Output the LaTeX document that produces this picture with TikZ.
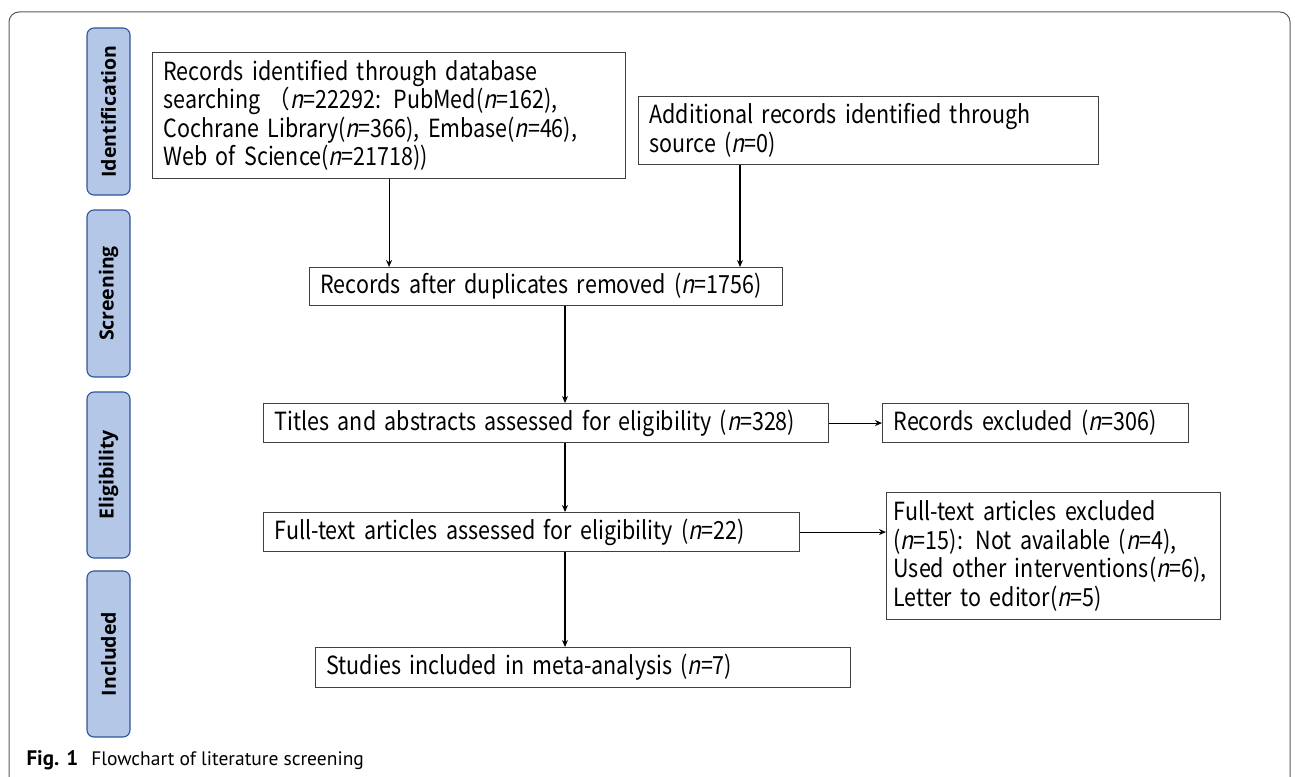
\documentclass[tikz,border=0pt]{standalone}
\usepackage{fontspec}
\usepackage{tikz}
\usetikzlibrary{arrows.meta}
\newfontfamily\boxfont{Noto Sans CJK SC}[AutoFakeSlant=0.2, FakeStretch=0.86]
\newfontfamily\stagefont{Open Sans}
\newfontfamily\capfont{PT Sans}
\definecolor{stagefill}{RGB}{180,199,231}
\definecolor{stagedraw}{RGB}{47,85,151}
\definecolor{framegray}{RGB}{90,90,90}
\hyphenpenalty=10000

\begin{document}
\begin{tikzpicture}[x=1pt, y=-1pt, >={Stealth[length=7pt,width=6pt]},
                    line width=1.1pt]
  \tikzstyle{record} = [rectangle, draw=black!75, anchor=north west,
    align=left, inner xsep=11pt, inner ysep=0pt,
    font=\boxfont\fontsize{25}{28.5}\selectfont]
  \tikzstyle{stage} = [rectangle, rounded corners=7pt, fill=stagefill,
    draw=stagedraw, minimum width=43pt, inner sep=0pt,
    font=\stagefont\bfseries\fontsize{19.5}{22}\selectfont]

  \useasboundingbox (0,0) rectangle (1295,776);
  \draw[framegray, line width=1pt, rounded corners=10pt] (9,12) rectangle (1290,795);

  % stages on the left
  \node[stage, minimum height=167pt] (Ident)  at (108.5,111.5) {\rotatebox{90}{Identification}};
  \node[stage, minimum height=167pt] (Screen) at (108.5,293.5) {\rotatebox{90}{Screening}};
  \node[stage, minimum height=166pt] (Elig)   at (108.5,475)   {\rotatebox{90}{Eligibility}};
  \node[stage, minimum height=166pt] (Incl)   at (108.5,654)   {\rotatebox{90}{Included}};

  % boxes
  \node[record, text width=451pt, minimum height=126pt] (Search) at (152,52)
    {Records identified through database\\
     searching （\textit{n}=22292: PubMed(\textit{n}=162),\\
     Cochrane Library(\textit{n}=366), Embase(\textit{n}=46),\\
     Web of Science(\textit{n}=21718))};
  \node[record, text width=438pt, minimum height=68pt] (Extra) at (638,96)
    {Additional records identified through\\ source (\textit{n}=0)};
  \node[record, text width=451pt, minimum height=38pt] (Dups) at (309,267)
    {Records after duplicates removed (\textit{n}=1756)};
  \node[record, text width=543pt, minimum height=39pt] (Titles) at (263,403)
    {Titles and abstracts assessed for eligibility (\textit{n}=328)};
  \node[record, text width=284pt, minimum height=39pt] (ExclA) at (882,403)
    {Records excluded (\textit{n}=306)};
  \node[record, text width=514pt, minimum height=39pt] (Full) at (263,512)
    {Full-text articles assessed for eligibility (\textit{n}=22)};
  \node[record, text width=320pt, inner xsep=7pt, minimum height=127pt] (ExclB) at (886,492)
    {Full-text articles excluded\\
     (\textit{n}=15): Not available (\textit{n}=4),\\
     Used other interventions(\textit{n}=6),\\
     Letter to editor(\textit{n}=5)};
  \node[record, text width=513pt, minimum height=40pt] (Meta) at (315,647)
    {Studies included in meta-analysis (\textit{n}=7)};

  \coordinate (ColA) at (740,0);
  \coordinate (ColB) at (565,0);
  \path[->]
        (Search.south)     edge (Search.south |- Dups.north)
        (Extra.south -| ColA) edge (Dups.north -| ColA)
        (Dups.south -| ColB)  edge (Titles.north -| ColB)
        (Titles.east)      edge (ExclA.west)
        (Titles.south -| ColB) edge (Full.north -| ColB)
        (Full.east)        edge (Full.east -| ExclB.west)
        (Full.south -| ColB)  edge (Meta.north -| ColB);

  \node[anchor=base west, inner sep=0pt, font=\capfont\fontsize{19.5}{22}\selectfont]
    (Caption) at (26,765) {{\fontsize{21}{22}\selectfont\textbf{Fig. 1}}\hspace{13pt}Flowchart of literature screening};
\end{tikzpicture}
\end{document}
